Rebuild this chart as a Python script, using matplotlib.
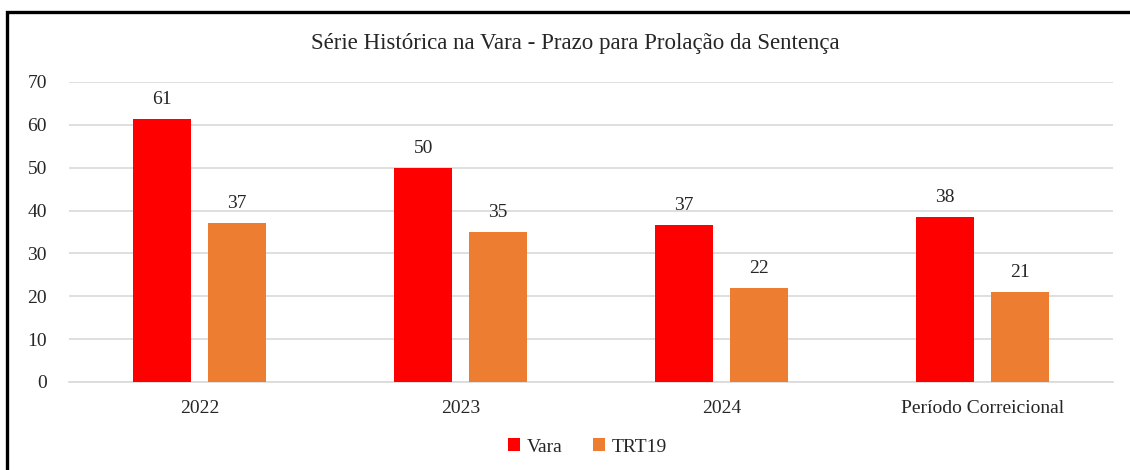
import numpy as np
import matplotlib.pyplot as plt
from matplotlib.patches import Rectangle

categories = ['2022', '2023', '2024', 'Período Correicional']
vara = [61.4, 50.0, 36.6, 38.4]
trt19 = [37.0, 35.0, 22.0, 21.0]
series_names = ['Vara', 'TRT19']
title = 'Série Histórica na Vara - Prazo para Prolação da Sentença'

plt.rcParams['font.family'] = ['Liberation Serif', 'DejaVu Serif']

fig = plt.figure(figsize=(11.3, 4.7), dpi=100)
ax = fig.add_axes([69/1130, 1-382/470, (1113-69)/1130, 300/470])

x = np.arange(len(categories))
w = 0.222
off = 0.143
b1 = ax.bar(x - off, vara, w, color='#FF0000', label=series_names[0], zorder=3)
b2 = ax.bar(x + off, trt19, w, color='#ED7D31', label=series_names[1], zorder=3)

for bars in (b1, b2):
    ax.bar_label(bars, labels=['%d' % round(b.get_height()) for b in bars],
                 padding=8, fontsize=14, color='#262626')

ax.set_xlim(-0.5, 3.5)
ax.set_ylim(0, 70)
ax.set_yticks(range(0, 71, 10))
ax.set_xticks(x)
ax.set_xticklabels(categories)
ax.tick_params(axis='both', length=0, labelsize=14, colors='#262626')
ax.tick_params(axis='y', pad=16)
ax.tick_params(axis='x', pad=13)
ax.grid(axis='y', color='#D9D9D9', linewidth=1.2, zorder=0)
for s in ['top', 'right', 'left']:
    ax.spines[s].set_visible(False)
ax.spines['bottom'].set_color('#D9D9D9')
ax.spines['bottom'].set_linewidth(1.2)

fig.text(0.509, 1-43/470, title, ha='center', va='center', fontsize=16.5, color='#262626')

fig.legend(loc='center', bbox_to_anchor=(0.52, 1-447/470), ncol=2, frameon=False,
           fontsize=14, handlelength=0.6, handleheight=0.6, columnspacing=1.6,
           handletextpad=0.35, labelcolor='#262626')

fig.patches.append(Rectangle((7/1130, -0.2), 1.5, 1-12/470+0.2, transform=fig.transFigure,
                             fill=False, edgecolor='black', linewidth=2.4))

fig.savefig('out.png', dpi=100)
